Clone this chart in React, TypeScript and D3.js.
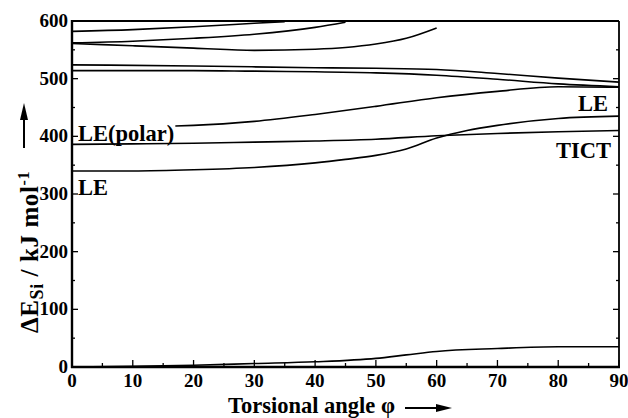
import React from 'react';
import * as d3 from 'd3';

const W = 628;
const H = 418;
const margin = { left: 72, right: 9, top: 21, bottom: 51 };

// x axis: torsional angle, y axis: energy (kJ/mol)
const xTicks = [0, 10, 20, 30, 40, 50, 60, 70, 80, 90];
const yTicks = [0, 100, 200, 300, 400, 500, 600];

// upper states
const aPhi = [0, 10, 20, 30, 35];
const aE = [582, 585, 590, 596, 599];
const bPhi = [0, 10, 20, 30, 40, 45];
const bE = [562, 565, 570, 577, 589, 598];
const cPhi = [0, 10, 20, 30, 40, 45, 50, 55, 60];
const cE = [561, 557, 553, 549, 551, 554, 560, 570, 588];
const dPhi = [0, 20, 40, 50, 60, 70, 80, 90];
const dE = [524, 522, 519, 518, 516, 509, 501, 494];
const ePhi = [0, 20, 30, 40, 50, 60, 70, 80, 90];
const eE = [514, 514, 513, 512, 510, 506, 499, 491, 486];
// LE(polar)
const fPhi = [17, 20, 30, 40, 50, 60, 70, 80, 90];
const fE = [418, 419, 426, 438, 452, 467, 478, 486, 485];
// TICT
const gPhi = [0, 10, 20, 30, 40, 50, 60, 70, 80, 90];
const gE = [386, 387, 388, 390, 392, 395, 401, 405, 408, 410];
// LE
const hPhi = [0, 10, 20, 30, 40, 45, 50, 55, 60, 65, 70, 80, 90];
const hE = [340, 340, 342, 346, 354, 360, 367, 378, 397, 410, 419, 431, 435];
// ground state
const iPhi = [0, 10, 20, 30, 40, 50, 55, 60, 70, 80, 90];
const iE = [0, 1, 3, 6, 9, 15, 21, 27, 32, 35, 35];

const curves = [
  [aPhi, aE], [bPhi, bE], [cPhi, cE], [dPhi, dE], [ePhi, eE],
  [fPhi, fE], [gPhi, gE], [hPhi, hE], [iPhi, iE],
];

const font = '"Liberation Serif", "Times New Roman", serif';

export default function App() {
  const x = d3.scaleLinear().domain([0, 90]).range([margin.left, W - margin.right]);
  const y = d3.scaleLinear().domain([0, 600]).range([H - margin.bottom, margin.top]);

  const line = d3
    .line<[number, number]>()
    .x((d) => x(d[0]))
    .y((d) => y(d[1]))
    .curve(d3.curveMonotoneX);

  const xMinor = d3.range(0, 91, 5);
  const yMinor = d3.range(0, 601, 50);

  const x0 = x(0), x1 = x(90), y0 = y(0), y1 = y(600);

  return (
    <svg width={W} height={H} style={{ position: 'absolute', left: 0, top: 0, background: '#fff' }}
      fontFamily={font} fontWeight="bold">
      {curves.map(([p, e], k) => (
        <path key={k} d={line(p.map((v, i) => [v, e[i]]) as [number, number][]) || ''}
          fill="none" stroke="#000" strokeWidth={1.6} />
      ))}

      {/* frame */}
      <line x1={x0} x2={x1} y1={y1} y2={y1} stroke="#000" strokeWidth={2.2} />
      <line x1={x1} x2={x1} y1={y1} y2={y0} stroke="#000" strokeWidth={1.8} />
      <line x1={x0} x2={x0} y1={y1 - 1} y2={y0 + 1} stroke="#000" strokeWidth={2.4} />
      <line x1={x0 - 1} x2={x1 + 1} y1={y0} y2={y0} stroke="#000" strokeWidth={2.6} />

      {/* x ticks, inward */}
      {xMinor.map((t) => (
        <line key={'xm' + t} x1={x(t)} x2={x(t)} y1={y0} y2={y0 - (t % 10 === 0 ? 7 : 4)}
          stroke="#000" strokeWidth={1.3} />
      ))}
      {/* y ticks, inward on both sides */}
      {yMinor.map((t) => (
        <g key={'ym' + t}>
          <line x1={x0} x2={x0 + (t % 100 === 0 ? 6 : 3)} y1={y(t)} y2={y(t)} stroke="#000" strokeWidth={1.3} />
          <line x1={x1} x2={x1 - (t % 100 === 0 ? 6 : 3)} y1={y(t)} y2={y(t)} stroke="#000" strokeWidth={1.3} />
        </g>
      ))}

      {xTicks.map((t) => (
        <text key={'xl' + t} x={x(t)} y={387} fontSize={19} textAnchor="middle">{t}</text>
      ))}
      {yTicks.map((t) => (
        <text key={'yl' + t} x={68} y={y(t) + 6} fontSize={19} textAnchor="end">{t}</text>
      ))}

      {/* state labels */}
      <text x={78} y={141} fontSize={22.5}>LE(polar)</text>
      <text x={78} y={195} fontSize={22.5}>LE</text>
      <text x={608} y={111} fontSize={22.5} textAnchor="end">LE</text>
      <text x={611} y={158} fontSize={22.5} textAnchor="end">TICT</text>

      {/* axis titles */}
      <text x={228} y={413} fontSize={22.5}>Torsional angle φ</text>
      <line x1={405} x2={440} y1={408} y2={408} stroke="#000" strokeWidth={2} />
      <path d="M436,404 L452,408 L436,412 Z" fill="#000" />

      <text transform="translate(38,252) rotate(-90)" fontSize={25} textAnchor="middle" letterSpacing={0.6}>
        ΔE<tspan fontSize={18} dy={5}>Si</tspan><tspan dy={-5}> / kJ mol</tspan>
        <tspan fontSize={16} dy={-9}>-1</tspan>
      </text>
      <line x1={24} x2={24} y1={148} y2={115} stroke="#000" strokeWidth={2} />
      <path d="M20,120 L24,103 L28,120 Z" fill="#000" />
    </svg>
  );
}
